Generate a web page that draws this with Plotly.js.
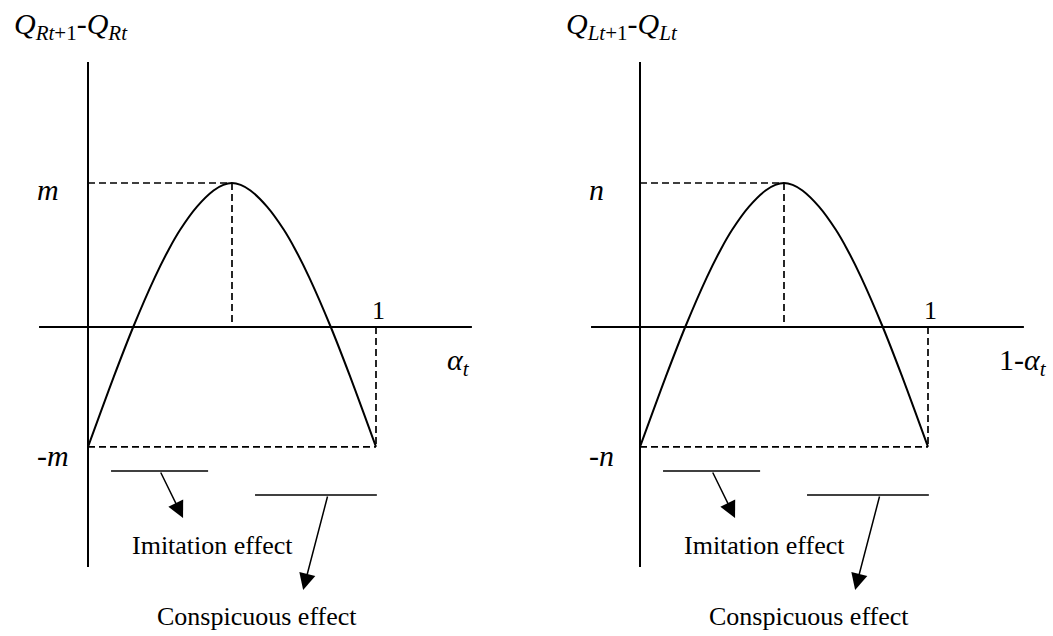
<!DOCTYPE html>
<html>
<head>
<meta charset="utf-8">
<script src="https://cdn.plot.ly/plotly-3.0.1.min.js"></script>
<style>
  html, body { margin: 0; padding: 0; background: #fff; }
  #chart { width: 1053px; height: 636px; }
</style>
</head>
<body>
<div id="chart"></div>
<script>
// Curve (x = share, y = change in output, peak = 1)
const shareValues = [0, 0.045, 0.09, 0.157, 0.232, 0.28, 0.32, 0.3785, 0.436, 0.47, 0.5,
                     0.53, 0.564, 0.6215, 0.68, 0.72, 0.768, 0.843, 0.91, 0.955, 1];
const changeValues = [-0.833, -0.586, -0.343, 0, 0.345, 0.537, 0.675, 0.836, 0.948, 0.987, 1,
                      0.987, 0.948, 0.836, 0.675, 0.537, 0.345, 0, -0.343, -0.586, -0.833];

// Text for the two panels
const panelTitles = ['<i>Q</i><sub><i>Rt</i>+1</sub>-<i>Q</i><sub><i>Rt</i></sub>', '<i>Q</i><sub><i>Lt</i>+1</sub>-<i>Q</i><sub><i>Lt</i></sub>'];
const peakLabels = ['<i>m</i>', '<i>n</i>'];
const troughLabels = ['-<i>m</i>', '-<i>n</i>'];
const axisLabels = ['<i>α</i><sub><i>t</i></sub>', '1-<i>α</i><sub><i>t</i></sub>'];
const unitLabel = '1';
const effectLabels = ['Imitation effect', 'Conspicuous effect'];

const xRefs = ['x', 'x2'];
const serif = 'Liberation Serif, Times New Roman, serif';

// Peak and ends of the curve, taken from the data
const peakIndex = changeValues.indexOf(Math.max(...changeValues));
const peakX = shareValues[peakIndex];
const peakY = changeValues[peakIndex];
const endX = shareValues[shareValues.length - 1];
const troughY = changeValues[0];

let data = [];
let shapes = [];
let annotations = [];

xRefs.forEach((xr, i) => {
    // Curve
    data.push({
        x: shareValues,
        y: changeValues,
        xaxis: xr,
        yaxis: 'y',
        mode: 'lines',
        line: {color: '#000', width: 2, shape: 'spline', smoothing: 0.9},
        hoverinfo: 'skip'
    });

    const solid = {color: '#000', width: 2};
    const dashed = {color: '#000', width: 1.7, dash: '7px,4px'};

    // Axes
    shapes.push({type: 'line', xref: xr, yref: 'y', x0: 0, x1: 0, y0: 1.84, y1: -1.667, line: solid});
    shapes.push({type: 'line', xref: xr, yref: 'y', x0: -0.17, x1: 1.333, y0: 0, y1: 0, line: solid});

    // Guide lines
    shapes.push({type: 'line', xref: xr, yref: 'y', x0: 0, x1: peakX, y0: peakY, y1: peakY, line: dashed});
    shapes.push({type: 'line', xref: xr, yref: 'y', x0: peakX, x1: peakX, y0: peakY, y1: 0, line: dashed});
    shapes.push({type: 'line', xref: xr, yref: 'y', x0: endX, x1: endX, y0: 0, y1: troughY, line: dashed});
    shapes.push({type: 'line', xref: xr, yref: 'y', x0: 0, x1: endX, y0: troughY, y1: troughY, line: dashed});

    // Brackets for the effects
    const thin = {color: '#000', width: 1.6};
    shapes.push({type: 'line', xref: xr, yref: 'y', x0: 0.08, x1: 0.417, y0: -1.0, y1: -1.0, line: thin});
    shapes.push({type: 'line', xref: xr, yref: 'y', x0: 0.58, x1: 1.003, y0: -1.167, y1: -1.167, line: thin});

    const txt = (size) => ({family: serif, size: size, color: '#000'});

    annotations.push({xref: xr, yref: 'y', x: -0.264, y: 2.09, text: panelTitles[i], showarrow: false,
        xanchor: 'left', yanchor: 'middle', font: txt(30)});
    annotations.push({xref: xr, yref: 'y', x: -0.184, y: peakY, yshift: -6, text: peakLabels[i], showarrow: false,
        xanchor: 'left', yanchor: 'middle', font: txt(30)});
    annotations.push({xref: xr, yref: 'y', x: -0.184, y: troughY, yshift: -9, text: troughLabels[i], showarrow: false,
        xanchor: 'left', yanchor: 'middle', font: txt(30)});
    annotations.push({xref: xr, yref: 'y', x: endX, xshift: 2, y: 0, text: unitLabel, showarrow: false,
        xanchor: 'center', yanchor: 'bottom', font: txt(26)});
    annotations.push({xref: xr, yref: 'y', x: 1.24, y: -0.243, text: axisLabels[i], showarrow: false,
        xanchor: 'left', yanchor: 'middle', font: txt(30)});

    annotations.push({xref: xr, yref: 'y', x: 0.434, y: -1.514, text: effectLabels[0], showarrow: false,
        xanchor: 'center', yanchor: 'middle', font: txt(26)});
    annotations.push({xref: xr, yref: 'y', x: 0.587, y: -2.007, text: effectLabels[1], showarrow: false,
        xanchor: 'center', yanchor: 'middle', font: txt(26)});

    // Arrows from brackets to the effect labels
    annotations.push({xref: xr, yref: 'y', axref: xr, ayref: 'y', x: 0.33, y: -1.326, ax: 0.25, ay: -1.0,
        text: '', showarrow: true, arrowhead: 2, arrowsize: 2.2, arrowwidth: 1.5, arrowcolor: '#000'});
    annotations.push({xref: xr, yref: 'y', axref: xr, ayref: 'y', x: 0.747, y: -1.826, ax: 0.833, ay: -1.167,
        text: '', showarrow: true, arrowhead: 2, arrowsize: 2.2, arrowwidth: 1.5, arrowcolor: '#000'});
});

const layout = {
    width: 1053,
    height: 636,
    margin: {l: 0, r: 0, t: 0, b: 0},
    paper_bgcolor: '#fff',
    plot_bgcolor: '#fff',
    showlegend: false,
    xaxis: {range: [-88 / 288, (1053 - 88) / 288], visible: false, domain: [0, 1], fixedrange: true},
    xaxis2: {range: [-640 / 288, (1053 - 640) / 288], visible: false, overlaying: 'x', fixedrange: true},
    yaxis: {range: [(327 - 636) / 144, 327 / 144], visible: false, fixedrange: true},
    shapes: shapes,
    annotations: annotations
};

Plotly.newPlot('chart', data, layout, {staticPlot: true});
</script>
</body>
</html>
